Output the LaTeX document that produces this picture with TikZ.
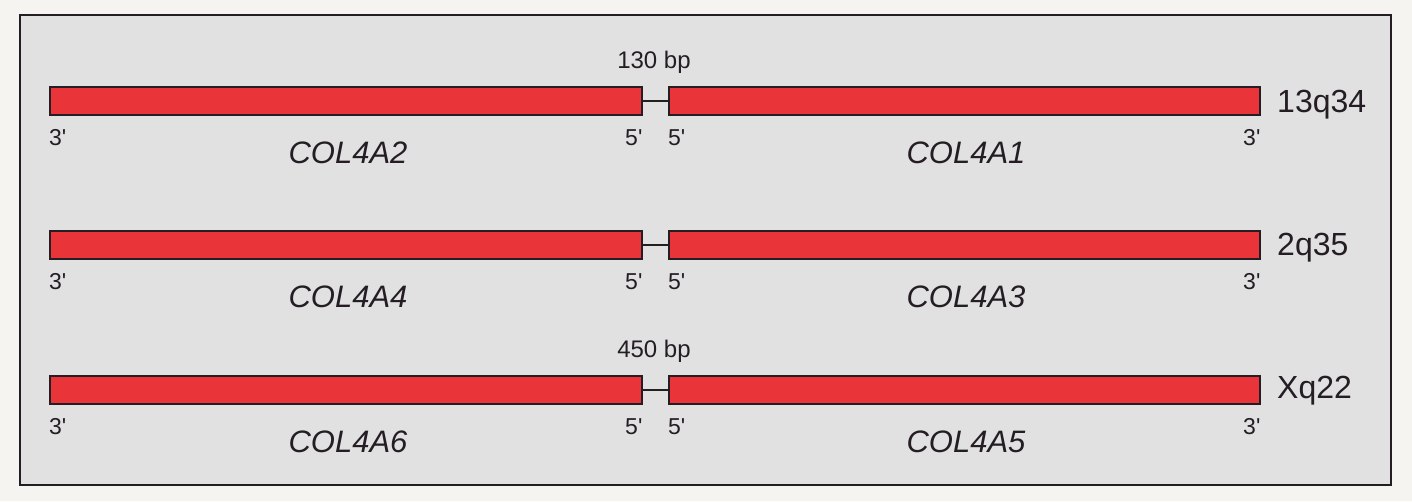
\documentclass[tikz,border=0pt]{standalone}
\usepackage{fontspec}
\setmainfont{Liberation Sans}
\definecolor{paper}{RGB}{245,244,241}
\definecolor{panel}{RGB}{226,225,226}
\definecolor{barred}{RGB}{233,52,58}
\definecolor{ink}{RGB}{36,30,36}
\newcommand{\pr}{\textquotesingle}
\tikzset{
  genebar/.style={draw=ink, line width=1.6pt, fill=barred, inner sep=0pt, minimum height=28pt, anchor=north west},
  leftbar/.style={genebar, minimum width=592pt},
  rightbar/.style={genebar, minimum width=591pt},
  link/.style={draw=ink, line width=2.6pt},
  endlbl/.style={font=\fontsize{23}{26}\selectfont, text=ink, inner sep=0pt},
  genelbl/.style={font=\fontsize{31}{34}\selectfont\itshape, text=ink, inner sep=0pt, anchor=base},
  chrlbl/.style={font=\fontsize{32}{35}\selectfont, text=ink, inner sep=0pt, anchor=base west},
  bplbl/.style={font=\fontsize{24}{27}\selectfont, text=ink, inner sep=0pt, anchor=base},
}
\begin{document}
\begin{tikzpicture}[x=1pt,y=-1pt]
\useasboundingbox (0,0) rectangle (1412,501);
\fill[paper] (0,0) rectangle (1412,501);
\draw[draw=ink, line width=2pt, fill=panel] (20,15) rectangle (1391,485);

% row 1
\node[leftbar]  (a2) at (49,86) {};
\node[rightbar] (a1) at (668,86) {};
\draw[link] (a2.east) -- (a1.west);
\node[bplbl] (bp1) at (654,68) {130 bp};
\node[endlbl, anchor=base west] (a2l) at (a2.south west) [yshift=-30pt] {3\pr};
\node[endlbl, anchor=base east] (a2r) at (a2.south east) [yshift=-30pt] {5\pr};
\node[endlbl, anchor=base west] (a1l) at (a1.south west) [yshift=-30pt] {5\pr};
\node[endlbl, anchor=base east] (a1r) at (a1.south east) [yshift=-30pt] {3\pr};
\node[genelbl] (n2) at (348,163) {COL4A2};
\node[genelbl] (n1) at (966,163) {COL4A1};
\node[chrlbl] (c1) at (1277,112) {13q34};

% row 2
\node[leftbar]  (a4) at (49,230) {};
\node[rightbar] (a3) at (668,230) {};
\draw[link] (a4.east) -- (a3.west);
\node[endlbl, anchor=base west] (a4l) at (a4.south west) [yshift=-30pt] {3\pr};
\node[endlbl, anchor=base east] (a4r) at (a4.south east) [yshift=-30pt] {5\pr};
\node[endlbl, anchor=base west] (a3l) at (a3.south west) [yshift=-30pt] {5\pr};
\node[endlbl, anchor=base east] (a3r) at (a3.south east) [yshift=-30pt] {3\pr};
\node[genelbl] (n4) at (348,307) {COL4A4};
\node[genelbl] (n3) at (966,307) {COL4A3};
\node[chrlbl] (c2) at (1277,255) {2q35};

% row 3
\node[leftbar]  (a6) at (49,375) {};
\node[rightbar] (a5) at (668,375) {};
\draw[link] (a6.east) -- (a5.west);
\node[bplbl] (bp3) at (654,357) {450 bp};
\node[endlbl, anchor=base west] (a6l) at (a6.south west) [yshift=-30pt] {3\pr};
\node[endlbl, anchor=base east] (a6r) at (a6.south east) [yshift=-30pt] {5\pr};
\node[endlbl, anchor=base west] (a5l) at (a5.south west) [yshift=-30pt] {5\pr};
\node[endlbl, anchor=base east] (a5r) at (a5.south east) [yshift=-30pt] {3\pr};
\node[genelbl] (n6) at (348,452) {COL4A6};
\node[genelbl] (n5) at (966,452) {COL4A5};
\node[chrlbl] (c3) at (1277,398) {Xq22};
\end{tikzpicture}
\end{document}
